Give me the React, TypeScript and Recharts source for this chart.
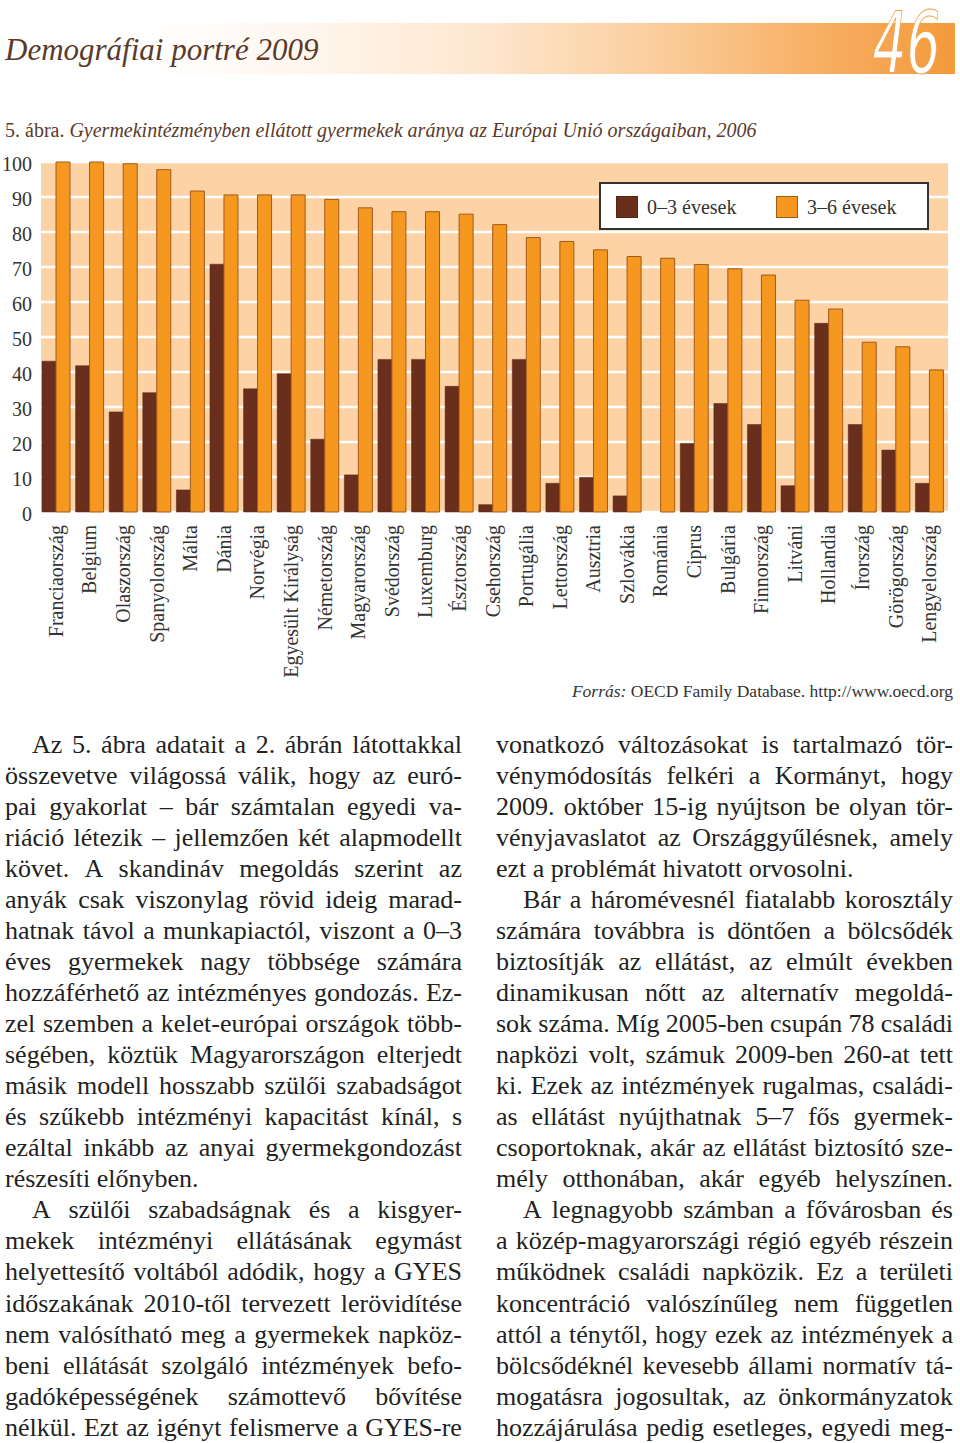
import { BarChart, Bar, XAxis, YAxis, CartesianGrid, Legend } from "recharts";

const countries = [
  "Franciaország", "Belgium", "Olaszország", "Spanyolország", "Málta", "Dánia",
  "Norvégia", "Egyesült Királyság", "Németország", "Magyarország", "Svédország",
  "Luxemburg", "Észtország", "Csehország", "Portugália", "Lettország", "Ausztria",
  "Szlovákia", "Románia", "Ciprus", "Bulgária", "Finnország", "Litváni",
  "Hollandia", "Írország", "Görögország", "Lengyelország",
];
// 0–3 évesek (Románia: nincs adat)
const age0to3 = [
  43.1, 41.8, 28.6, 34.1, 6.3, 70.8, 35.2, 39.5, 20.8, 10.6, 43.6, 43.6, 35.9,
  2.1, 43.6, 8.2, 9.9, 4.6, null, 19.6, 31.0, 25.0, 7.5, 53.9, 25.0, 17.7, 8.2,
];
// 3–6 évesek
const age3to6 = [
  100, 100, 99.5, 97.8, 91.7, 90.6, 90.6, 90.6, 89.3, 86.9, 85.8, 85.8, 85.1,
  82.1, 78.4, 77.3, 74.9, 73.0, 72.5, 70.7, 69.5, 67.7, 60.5, 58.0, 48.5, 47.2, 40.6,
];
const yTicks = [0, 10, 20, 30, 40, 50, 60, 70, 80, 90, 100];

const data = countries.map((c, i) => ({ country: c, a: age0to3[i], b: age3to6[i] }));

const FONT = '"Liberation Serif", "DejaVu Serif", serif';
const TEXT = "#222";
const BROWN = "#5a3a2b";

// i = indented first line, j = justified, l = last line of paragraph
const leftCol: [string, string][] = [
  ["Az 5. ábra adatait a 2. ábrán látottakkal", "i"],
  ["összevetve világossá válik, hogy az euró-", "j"],
  ["pai gyakorlat – bár számtalan egyedi va-", "j"],
  ["riáció létezik – jellemzően két alapmodellt", "j"],
  ["követ. A skandináv megoldás szerint az", "j"],
  ["anyák csak viszonylag rövid ideig marad-", "j"],
  ["hatnak távol a munkapiactól, viszont a 0–3", "j"],
  ["éves gyermekek nagy többsége számára", "j"],
  ["hozzáférhető az intézményes gondozás. Ez-", "j"],
  ["zel szemben a kelet-európai országok több-", "j"],
  ["ségében, köztük Magyarországon elterjedt", "j"],
  ["másik modell hosszabb szülői szabadságot", "j"],
  ["és szűkebb intézményi kapacitást kínál, s", "j"],
  ["ezáltal inkább az anyai gyermekgondozást", "j"],
  ["részesíti előnyben.", "l"],
  ["A szülői szabadságnak és a kisgyer-", "i"],
  ["mekek intézményi ellátásának egymást", "j"],
  ["helyettesítő voltából adódik, hogy a GYES", "j"],
  ["időszakának 2010-től tervezett lerövidítése", "j"],
  ["nem valósítható meg a gyermekek napköz-", "j"],
  ["beni ellátását szolgáló intézmények befo-", "j"],
  ["gadóképességének számottevő bővítése", "j"],
  ["nélkül. Ezt az igényt felismerve a GYES-re", "j"],
];
const rightCol: [string, string][] = [
  ["vonatkozó változásokat is tartalmazó tör-", "j"],
  ["vénymódosítás felkéri a Kormányt, hogy", "j"],
  ["2009. október 15-ig nyújtson be olyan tör-", "j"],
  ["vényjavaslatot az Országgyűlésnek, amely", "j"],
  ["ezt a problémát hivatott orvosolni.", "l"],
  ["Bár a háromévesnél fiatalabb korosztály", "i"],
  ["számára továbbra is döntően a bölcsődék", "j"],
  ["biztosítják az ellátást, az elmúlt években", "j"],
  ["dinamikusan nőtt az alternatív megoldá-", "j"],
  ["sok száma. Míg 2005-ben csupán 78 családi", "j"],
  ["napközi volt, számuk 2009-ben 260-at tett", "j"],
  ["ki. Ezek az intézmények rugalmas, családi-", "j"],
  ["as ellátást nyújthatnak 5–7 fős gyermek-", "j"],
  ["csoportoknak, akár az ellátást biztosító sze-", "j"],
  ["mély otthonában, akár egyéb helyszínen.", "j"],
  ["A legnagyobb számban a fővárosban és", "i"],
  ["a közép-magyarországi régió egyéb részein", "j"],
  ["működnek családi napközik. Ez a területi", "j"],
  ["koncentráció valószínűleg nem független", "j"],
  ["attól a ténytől, hogy ezek az intézmények a", "j"],
  ["bölcsődéknél kevesebb állami normatív tá-", "j"],
  ["mogatásra jogosultak, az önkormányzatok", "j"],
  ["hozzájárulása pedig esetleges, egyedi meg-", "j"],
];

function TextLine({ text, kind }: { text: string; kind: string }) {
  const base: React.CSSProperties = {
    height: 31.05,
    lineHeight: "31.05px",
    whiteSpace: "nowrap",
    paddingLeft: kind === "i" ? 27 : 0,
  };
  if (kind === "l") return <div style={base}>{text}</div>;
  return (
    <div style={{ ...base, display: "flex", justifyContent: "space-between" }}>
      {text.split(" ").map((w, i) => (
        <span key={i}>{w}</span>
      ))}
    </div>
  );
}

function CountryTick({ x, y, payload }: any) {
  return (
    <text
      x={x}
      y={y}
      transform={`rotate(-90, ${x}, ${y})`}
      textAnchor="end"
      dominantBaseline="central"
      fontSize={20}
      fontFamily={FONT}
      fill="#333"
    >
      {payload.value}
    </text>
  );
}

const legendBorders: Record<string, string> = { a: "#5a2414", b: "#a05a1c" };

function LegendBox({ payload }: any) {
  return (
    <div
      style={{
        position: "relative",
        width: 330,
        height: 48,
        boxSizing: "border-box",
        background: "#fff",
        border: "2px solid #333",
        fontFamily: FONT,
      }}
    >
      {(payload || []).map((e: any, i: number) => (
        <div
          key={i}
          style={{ position: "absolute", left: 15 + i * 160, top: 12, display: "flex", alignItems: "center" }}
        >
          <span
            style={{
              display: "inline-block",
              width: 22,
              height: 22,
              boxSizing: "border-box",
              background: e.color,
              border: `1px solid ${legendBorders[e.dataKey] || e.color}`,
            }}
          />
          <span style={{ marginLeft: 9, fontSize: 20, color: "#333" }}>{e.value}</span>
        </div>
      ))}
    </div>
  );
}

export default function App() {
  return (
    <div
      style={{
        position: "absolute",
        left: 0,
        top: 0,
        width: 960,
        height: 1443,
        overflow: "hidden",
        background: "#fff",
        fontFamily: FONT,
        color: TEXT,
      }}
    >
      {/* fejléc sáv */}
      <div
        style={{
          position: "absolute",
          left: 0,
          top: 23,
          width: 955,
          height: 51,
          background:
            "linear-gradient(to right, #ffffff 0%, #ffffff 15%, #fff6ee 32%, #fee7d0 50%, #fbcf9f 68%, #f7b066 85%, #f39a3a 100%)",
        }}
      />
      <div
        style={{
          position: "absolute",
          left: 5,
          top: 33.5,
          fontSize: 31,
          lineHeight: "31px",
          fontStyle: "italic",
          color: BROWN,
          whiteSpace: "nowrap",
        }}
      >
        Demográfiai portré 2009
      </div>
      <div
        style={{
          position: "absolute",
          right: 20,
          top: 10,
          fontSize: 86,
          lineHeight: "66px",
          fontFamily: '"DejaVu Sans ExtraLight", "DejaVu Sans", sans-serif',
          fontWeight: 200,
          fontStyle: "italic",
          color: "#fff",
          WebkitTextStroke: "1px #f3a04c",
          transform: "scaleX(0.62)",
          transformOrigin: "right",
          whiteSpace: "nowrap",
        }}
      >
        46
      </div>

      {/* ábracím */}
      <div
        style={{
          position: "absolute",
          left: 5,
          top: 120,
          fontSize: 20,
          lineHeight: "20px",
          color: BROWN,
          whiteSpace: "nowrap",
        }}
      >
        5. ábra. <i>Gyermekintézményben ellátott gyermekek aránya az Európai Unió országaiban, 2006</i>
      </div>

      <div style={{ position: "absolute", left: 0, top: 150 }}>
        <BarChart
          width={960}
          height={540}
          data={data}
          margin={{ top: 12, right: 12, bottom: 0, left: 0 }}
          barCategoryGap={3}
          barGap={0}
        >
          <CartesianGrid vertical={false} fill="#fdd2a4" stroke="#ffffff" strokeWidth={2.5} fillOpacity={1} />
          <XAxis
            dataKey="country"
            interval={0}
            height={178}
            axisLine={false}
            tickLine={false}
            tickSize={0}
            tickMargin={13}
            padding={{ left: -2, right: 2 }}
            tick={<CountryTick />}
          />
          <YAxis
            domain={[0, 100]}
            ticks={yTicks}
            width={41}
            axisLine={false}
            tickLine={false}
            tickSize={0}
            tickMargin={9}
            tick={{ fill: "#333", fontSize: 20, fontFamily: FONT, dy: 2 }}
          />
          <Legend
            layout="horizontal"
            verticalAlign="middle"
            align="center"
            wrapperStyle={{ left: 599, top: 31.7, width: 330, height: 48 }}
            content={<LegendBox />}
          />
          <Bar dataKey="a" name="0–3 évesek" fill="#6a2e1c" stroke="#5a2414" strokeWidth={0.5} isAnimationActive={false} />
          <Bar dataKey="b" name="3–6 évesek" fill="#f6981f" stroke="#a05a1c" strokeWidth={1} isAnimationActive={false} />
        </BarChart>
      </div>

      {/* forrás */}
      <div
        style={{
          position: "absolute",
          right: 7,
          top: 683,
          fontSize: 17.5,
          lineHeight: "17.5px",
          color: "#333",
          whiteSpace: "nowrap",
        }}
      >
        <i>Forrás:</i> OECD Family Database. http://www.oecd.org
      </div>

      {/* szövegtörzs */}
      <div style={{ position: "absolute", left: 5, top: 728.7, width: 457, fontSize: 26 }}>
        {leftCol.map(([t, k], i) => (
          <TextLine key={i} text={t} kind={k} />
        ))}
      </div>
      <div style={{ position: "absolute", left: 496, top: 728.7, width: 457, fontSize: 26 }}>
        {rightCol.map(([t, k], i) => (
          <TextLine key={i} text={t} kind={k} />
        ))}
      </div>
    </div>
  );
}
